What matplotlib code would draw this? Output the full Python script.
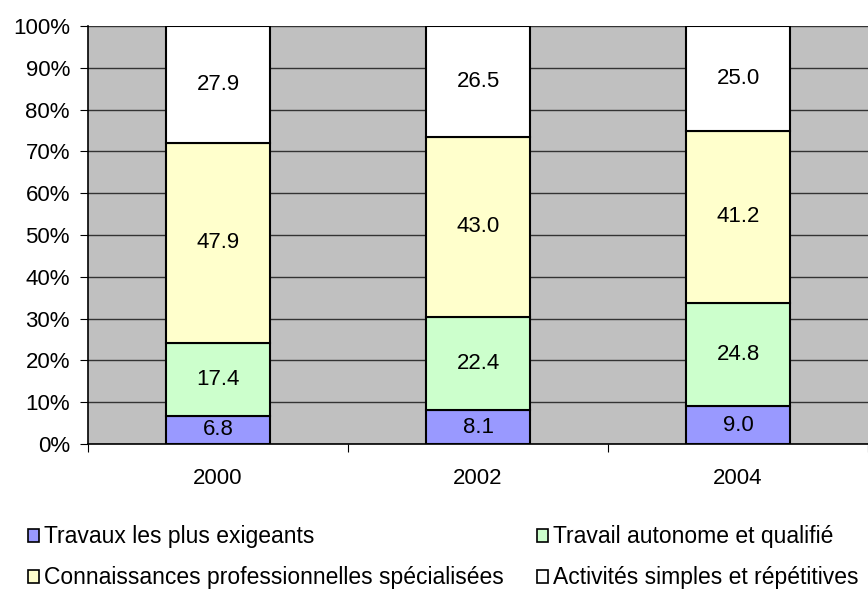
import matplotlib.pyplot as plt
from matplotlib.patches import Patch
from matplotlib.ticker import PercentFormatter

plt.rcParams['font.family'] = ['Liberation Sans', 'DejaVu Sans']

years = ["2000", "2002", "2004"]
travaux = [6.8, 8.1, 9.0]
travail = [17.4, 22.4, 24.8]
connaissances = [47.9, 43.0, 41.2]
activites = [27.9, 26.5, 25.0]

series = [
    ("Travaux les plus exigeants", travaux, "#9999FF"),
    ("Travail autonome et qualifié", travail, "#CCFFCC"),
    ("Connaissances professionnelles spécialisées", connaissances, "#FFFFCC"),
    ("Activités simples et répétitives", activites, "#FFFFFF"),
]

fig = plt.figure(figsize=(8.68, 5.91), dpi=100)
ax = fig.add_axes([88 / 868, (591 - 444) / 591, 1 - 88 / 868, (444 - 26) / 591])
ax.set_facecolor("#C0C0C0")

x = list(range(len(years)))
bottom = [0, 0, 0]
handles = []
for name, vals, color in series:
    bars = ax.bar(x, vals, 0.4, bottom=bottom, color=color, edgecolor="black", linewidth=1.5, zorder=3)
    for i, v in enumerate(vals):
        ax.text(x[i], bottom[i] + v / 2, "%.1f" % v, ha="center", va="center", fontsize=16, zorder=4)
    bottom = [b + v for b, v in zip(bottom, vals)]
    handles.append(Patch(facecolor=color, edgecolor="black", linewidth=1.2, label=name))

ax.set_xlim(-0.5, 2.5)
ax.set_ylim(0, 100)
ax.set_yticks(range(0, 101, 10))
ax.yaxis.set_major_formatter(PercentFormatter(decimals=0))
ax.set_xticks(x)
ax.set_xticklabels(years)
ax.set_xticks([-0.5, 0.5, 1.5, 2.5], minor=True)
ax.tick_params(axis="x", which="major", length=0, pad=17, labelsize=16)
ax.tick_params(axis="x", which="minor", length=6, width=0.8, direction="out")
ax.tick_params(axis="y", length=6, width=0.8, labelsize=16, pad=7)
ax.grid(axis="y", color="#333333", linewidth=1, zorder=0)
for s in ["top", "right"]:
    ax.spines[s].set_visible(False)
ax.spines["left"].set_linewidth(1.2)
ax.spines["bottom"].set_linewidth(1.2)

order = [handles[0], handles[2], handles[1], handles[3]]
fig.legend(handles=order, loc="lower left", bbox_to_anchor=(0.008, -0.032), ncol=2,
           frameon=False, fontsize=16.5, handlelength=0.5, handleheight=0.5,
           handletextpad=0.2, columnspacing=1.45, labelspacing=0.78)

fig.savefig("out.png", dpi=100)
